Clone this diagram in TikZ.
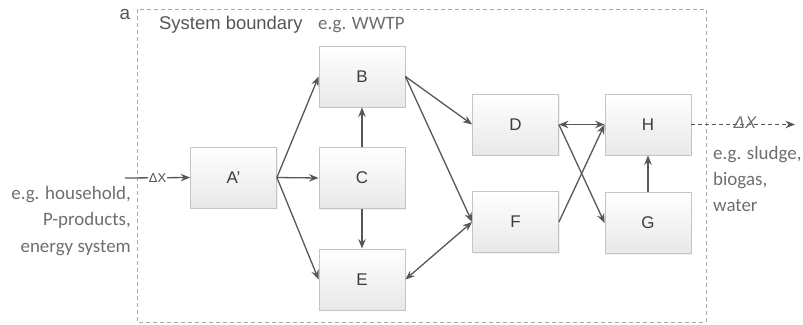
\documentclass[tikz,border=0pt]{standalone}
\usepackage{fontspec}
\setmainfont{Liberation Sans}
\newfontfamily\calfont{Carlito}
\usetikzlibrary{arrows.meta,shadows}
\definecolor{arrowgray}{HTML}{575757}
\definecolor{boxline}{HTML}{C4C4C4}
\definecolor{txtdark}{HTML}{3C3C3C}
\definecolor{txtmid}{HTML}{555555}
\definecolor{txtlight}{HTML}{6E6E6E}
\definecolor{bound}{HTML}{A8A8A8}
\tikzset{
  procbox/.style={draw=boxline, line width=0.8bp, top color=white, bottom color=black!9,
    minimum width=86bp, minimum height=61bp, inner sep=0pt,
    font=\fontsize{17}{20}\selectfont, text=txtdark,
    drop shadow={opacity=0.12, shadow xshift=1.2bp, shadow yshift=-1.2bp}},
  flow/.style={draw=arrowgray, line width=1.3bp, -{Stealth[length=9.5bp,width=7.5bp]}},
  biflow/.style={draw=arrowgray, line width=1.3bp, {Stealth[length=9.5bp,width=7.5bp]}-{Stealth[length=9.5bp,width=7.5bp]}},
  boundary/.style={draw=bound, line width=0.7bp, dash pattern=on 4bp off 3bp},
  egtext/.style={font=\calfont\fontsize{19}{26.5}\selectfont, text=txtlight, inner sep=0pt}
}
\begin{document}
\begin{tikzpicture}[x=1bp,y=-1bp]
\useasboundingbox (0,0) rectangle (803,324);
% system boundary
\draw[boundary] (137,9) rectangle (706,322);
\node[font=\fontsize{19}{20}\selectfont, text=txtmid, inner sep=0pt] (lbla) at (125,14) {a};
\node[anchor=west, font=\fontsize{18.5}{20}\selectfont, text=txtmid, inner sep=0pt] (sysb) at (159,25) {System boundary};
\node[anchor=west, egtext] (wwtp) at (318,25) {e.g. WWTP};
% boxes
\node[procbox] (A) at (233.5,177.5) {A'};
\node[procbox] (B) at (362,76.5) {B};
\node[procbox] (C) at (362,178) {C};
\node[procbox] (E) at (362,279.5) {E};
\node[procbox] (D) at (515.5,124.5) {D};
\node[procbox] (F) at (515.5,222) {F};
\node[procbox] (H) at (648,124.5) {H};
\node[procbox] (G) at (648,223) {G};
% side texts
\node[egtext, align=right, anchor=east] (intext) at (131,221) {e.g. household,\\P-products,\\energy system};
\node[egtext, align=left, anchor=west] (outtext) at (713,179) {e.g. sludge,\\biogas,\\water};
% input
\coordinate (in) at (125,178);
\draw[flow] (in) -- node[pos=0.5, fill=white, inner sep=0.6bp, font=\fontsize{13}{14}\selectfont, text=txtmid] (dxin) {ΔX} (A.west);
% output
\coordinate (out) at (795,124.5);
\draw[flow, line width=1bp, dash pattern=on 4bp off 3bp] (H.east) -- (out);
\node[font=\itshape\fontsize{17}{18}\selectfont, text=txtlight, inner sep=0pt] (dxout) at (745,123) {ΔX};
% flows
\draw[flow] (A.east) -- (B.west);
\draw[flow] (A.east) -- (C.west);
\draw[flow] (A.east) -- (E.west);
\draw[flow] (C.north) -- (B.south);
\draw[flow] (C.south) -- (E.north);
\draw[flow] (B.east) -- (D.west);
\draw[flow] (B.east) -- (F.west);
\draw[biflow] (E.east) -- (F.west);
\draw[biflow] (D.east) -- (H.west);
\draw[flow] (D.east) -- (G.west);
\draw[flow] (F.east) -- (H.west);
\draw[flow] (G.north) -- (H.south);
\end{tikzpicture}
\end{document}
